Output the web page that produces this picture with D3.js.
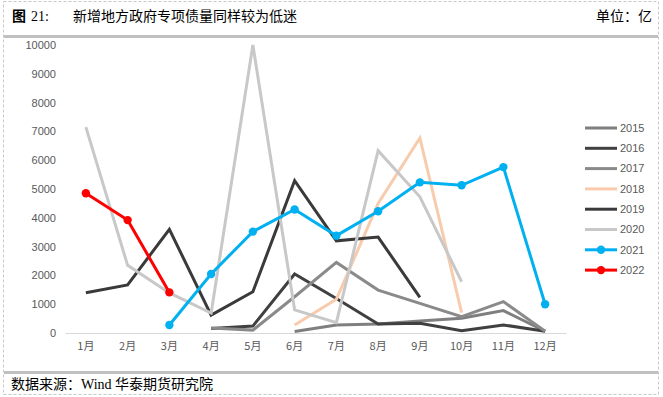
<!DOCTYPE html>
<html>
<head>
<meta charset="utf-8">
<script src="https://cdn.jsdelivr.net/npm/d3@7"></script>
<style>
  body { margin: 0; background: #fff; }
  svg { display: block; font-family: "Noto Sans CJK SC", "Liberation Sans", sans-serif; }
</style>
</head>
<body>
<svg id="chart" width="663" height="397"></svg>
<script>
var months = ["1月","2月","3月","4月","5月","6月","7月","8月","9月","10月","11月","12月"];
var yTicks = [0,1000,2000,3000,4000,5000,6000,7000,8000,9000,10000];
var years = ["2015","2016","2017","2018","2019","2020","2021","2022"];

// 亿元，null = 无数据
var v2015 = [null,null,null,null,null,50,280,310,420,510,780,60];
var v2016 = [null,null,null,160,240,2050,1200,310,340,80,280,60];
var v2017 = [null,null,null,170,100,1260,2450,1490,1030,570,1090,60];
var v2018 = [null,null,null,null,null,280,1170,4500,6770,710,null,null];
var v2019 = [1400,1670,3600,620,1430,5290,3200,3330,1240,null,null,null];
var v2020 = [7150,2350,1390,690,10000,800,360,6330,4730,1780,null,null];
var v2021 = [null,null,280,2050,3520,4290,3380,4230,5230,5130,5760,1000];
var v2022 = [4850,3920,1410,null,null,null,null,null,null,null,null,null];

var series = [
  {name: years[0], values: v2015, color: "#7f7f7f", dots: false},
  {name: years[1], values: v2016, color: "#404040", dots: false},
  {name: years[2], values: v2017, color: "#8a8a8a", dots: false},
  {name: years[3], values: v2018, color: "#f8cbad", dots: false},
  {name: years[4], values: v2019, color: "#3a3a3a", dots: false},
  {name: years[5], values: v2020, color: "#c8c8c8", dots: false},
  {name: years[6], values: v2021, color: "#00b0f0", dots: true},
  {name: years[7], values: v2022, color: "#ff0000", dots: true}
];

var svg = d3.select("#chart");

// frame
svg.append("rect")
  .attr("x", 3.5).attr("y", 1.5).attr("width", 655).attr("height", 393)
  .attr("fill", "none").attr("stroke", "#c8c8c8").attr("stroke-dasharray", "3,2");

svg.append("text").attr("x", 12).attr("y", 21)
  .attr("font-size", 14).attr("font-weight", "bold").attr("fill", "#000")
  .text("图");
svg.append("text").attr("x", 31).attr("y", 21)
  .attr("font-family", "Liberation Serif").attr("font-size", 14).attr("fill", "#000")
  .text("21:");
svg.append("text").attr("x", 73).attr("y", 21)
  .attr("font-size", 14).attr("fill", "#000")
  .text("新增地方政府专项债量同样较为低迷");
svg.append("text").attr("x", 652).attr("y", 21).attr("text-anchor", "end")
  .attr("font-size", 14).attr("fill", "#000")
  .text("单位：亿");

svg.append("rect").attr("x", 4).attr("y", 35).attr("width", 654).attr("height", 3).attr("fill", "#c0c0c0");
svg.append("rect").attr("x", 4).attr("y", 371).attr("width", 654).attr("height", 3).attr("fill", "#c0c0c0");

var foot = svg.append("text").attr("x", 11).attr("y", 389).attr("font-size", 14).attr("fill", "#000");
foot.append("tspan").text("数据来源：");
foot.append("tspan").attr("font-family", "Liberation Serif").text("Wind ");
foot.append("tspan").text("华泰期货研究院");

// plot
var x = d3.scaleBand().domain(months).range([65, 566]);
var y = d3.scaleLinear().domain([0, 10000]).range([333, 45]);

var xAxis = svg.append("g")
  .attr("transform", "translate(0,333)")
  .call(d3.axisBottom(x).tickSize(0).tickPadding(9));
xAxis.select(".domain").attr("stroke", "#d9d9d9").attr("stroke-width", 1.2);
xAxis.selectAll("text").attr("font-size", 11).attr("fill", "#595959")
  .attr("font-family", "Noto Sans CJK SC");

var yAxis = svg.append("g")
  .attr("transform", "translate(56,0)")
  .call(d3.axisLeft(y).tickValues(yTicks).tickFormat(d3.format("d")).tickSize(0).tickPadding(0));
yAxis.select(".domain").remove();
yAxis.selectAll("text").attr("font-size", 11).attr("fill", "#595959")
  .attr("font-family", "Liberation Sans");

var line = d3.line()
  .defined(function(d) { return d != null; })
  .x(function(d, i) { return x(months[i]) + x.bandwidth() / 2; })
  .y(function(d) { return y(d); });

series.forEach(function(s) {
  svg.append("path")
    .datum(s.values)
    .attr("fill", "none")
    .attr("stroke", s.color)
    .attr("stroke-width", 3)
    .attr("stroke-linejoin", "miter")
    .attr("d", line);
  if (s.dots) {
    svg.append("g").selectAll("circle")
      .data(s.values.map(function(v, i) { return {v: v, i: i}; }).filter(function(d) { return d.v != null; }))
      .enter().append("circle")
      .attr("cx", function(d) { return x(months[d.i]) + x.bandwidth() / 2; })
      .attr("cy", function(d) { return y(d.v); })
      .attr("r", 4.2)
      .attr("fill", s.color);
  }
});

// legend
var legend = svg.append("g");
series.forEach(function(s, i) {
  var ly = 128 + i * 20.3;
  legend.append("line")
    .attr("x1", 585).attr("x2", 617).attr("y1", ly).attr("y2", ly)
    .attr("stroke", s.color).attr("stroke-width", 3);
  if (s.dots) {
    legend.append("circle").attr("cx", 601).attr("cy", ly).attr("r", 4.2).attr("fill", s.color);
  }
  legend.append("text")
    .attr("x", 620).attr("y", ly).attr("dy", "0.35em")
    .attr("font-size", 11).attr("fill", "#595959")
    .attr("font-family", "Liberation Sans")
    .text(s.name);
});
</script>
</body>
</html>
